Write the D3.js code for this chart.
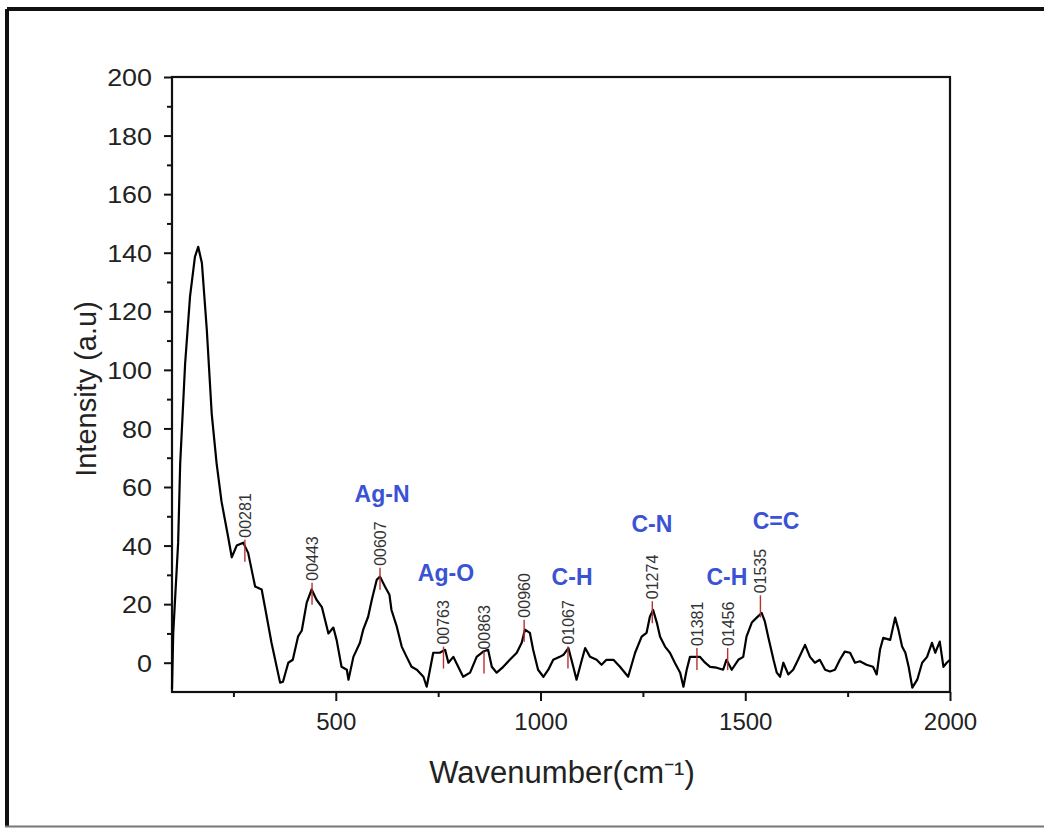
<!DOCTYPE html>
<html>
<head>
<meta charset="utf-8">
<script src="https://cdn.jsdelivr.net/npm/d3@7"></script>
<style>
  body { margin: 0; background: #fff; }
  svg { display: block; font-family: "Liberation Sans", Arial, sans-serif; }
</style>
</head>
<body>
<svg id="chart" width="1044" height="828"></svg>
<script>
// spectrum
var wavenumber = [100, 103, 115, 120, 132, 144, 156, 164, 173, 185, 197, 209, 221, 237, 246, 258, 274, 286, 303, 319,
  327, 343, 364, 371, 384, 395, 408, 417, 429, 441, 453, 466, 482, 494, 502, 514, 527, 531, 543, 559,
  567, 579, 588, 600, 608, 620, 631, 636, 649, 661, 673, 685, 698, 714, 722, 730, 738, 754, 767, 775,
  787, 799, 811, 828, 844, 860, 872, 881, 893, 909, 925, 942, 954, 962, 974, 982, 994, 1007, 1019, 1031,
  1047, 1056, 1068, 1080, 1088, 1101, 1109, 1121, 1137, 1149, 1161, 1178, 1194, 1214, 1231, 1247, 1259, 1267, 1275, 1284,
  1292, 1304, 1316, 1328, 1341, 1349, 1357, 1365, 1381, 1389, 1402, 1414, 1430, 1446, 1454, 1467, 1483, 1495, 1503, 1516,
  1528, 1540, 1548, 1556, 1569, 1577, 1585, 1593, 1605, 1617, 1629, 1646, 1658, 1670, 1682, 1695, 1707, 1719, 1731, 1743,
  1756, 1768, 1780, 1796, 1812, 1821, 1829, 1837, 1854, 1866, 1874, 1883, 1891, 1899, 1908, 1920, 1932, 1944, 1956, 1964,
  1975, 1984, 1992, 2000];
var intensity = [-9, 10, 41, 68, 102, 125, 138.6, 142, 136.5, 113.7, 85, 68, 55, 43, 36, 40, 41, 37.5, 26, 25,
  19, 6.8, -6.8, -6.5, 0, 1, 9, 11, 20.5, 25, 21.5, 19, 10, 12, 7.8, -1.4, -2.4, -5.8, 2, 6.8,
  11.3, 15.7, 21.5, 28.3, 29.4, 26, 23.2, 18, 12.3, 5.5, 2, -1.4, -2.4, -4.8, -8.2, -2.4, 3.4, 3.4, 4.4, 0,
  2, -1.4, -4.8, -3.4, 2, 3.8, 4.4, -1.4, -3.4, -1.4, 1, 3.4, 6.8, 11.3, 10.2, 4.4, -2.4, -4.8, -2.4, 1,
  2, 2.7, 5, -1.4, -5.8, 1, 5, 2, 1, -0.7, 1, 1, -1.4, -4.8, 3.4, 8.9, 10.2, 15.7, 18, 13.7,
  8.9, 5.5, 3.4, 0, -3.4, -8.2, -2.4, 2, 2, 2, 0, -1.4, -1.7, -2.4, 1, -2.4, 1, 2, 8.9, 13.7,
  15.4, 17, 14, 8.9, 1, -3.4, -4.8, 0, -4, -2.4, 1, 6.1, 2, 0, 1, -2.4, -3, -2.4, 1, 3.8,
  3.4, 0, 0.5, -0.7, -1.4, -4, 4.4, 8.5, 7.8, 15.4, 11.3, 5.5, 3.4, -1.4, -8.5, -5.8, 0, 2, 6.8, 3.4,
  7.2, -1.4, 0, 1];

// peak picks
var peakPos = [278, 442, 608, 763, 862, 960, 1067, 1273, 1382, 1457, 1537];
var peakTop = [42, 27.3, 32.4, 5.5, 3.8, 14.7, 5.5, 21, 5, 5, 23];
var peakLabels = ["00281", "00443", "00607", "00763", "00863", "00960", "01067", "01274", "01381", "01456", "01535"];

// band assignments
var bandNames = ["Ag-N", "Ag-O", "C-H", "C-N", "C-H", "C=C"];
var bandX = [613, 769, 1077, 1272, 1455, 1575];
var bandY = [55, 28, 26.6, 44.7, 26.6, 45.7];

var xMajor = [500, 1000, 1500, 2000];
var xMinor = [250, 750, 1250, 1750];
var yMajor = [0, 20, 40, 60, 80, 100, 120, 140, 160, 180, 200];
var yMinor = [10, 30, 50, 70, 90, 110, 130, 150, 170, 190];

var margin = { left: 172, top: 77 };
var width = 778, height = 615;

var svg = d3.select('#chart');

// outer frame
svg.append('line').attr('x1', 7).attr('y1', 9).attr('x2', 1044).attr('y2', 9)
  .attr('stroke', '#111').attr('stroke-width', 4);
svg.append('line').attr('x1', 7).attr('y1', 9).attr('x2', 7).attr('y2', 826)
  .attr('stroke', '#111').attr('stroke-width', 4);
svg.append('line').attr('x1', 5).attr('y1', 826.5).attr('x2', 1044).attr('y2', 826.5)
  .attr('stroke', '#777').attr('stroke-width', 2);

var g = svg.append('g').attr('transform', 'translate(' + margin.left + ',' + margin.top + ')');

var x = d3.scaleLinear().domain([100, 2000]).range([0, width]);
var y = d3.scaleLinear().domain([-10, 200]).range([height, 0]);

// axes
var xAxis = g.append('g').attr('transform', 'translate(0,' + height + ')')
  .call(d3.axisBottom(x).tickValues(xMajor).tickSize(9).tickPadding(12).tickFormat(d3.format('d')));
g.append('g').attr('transform', 'translate(0,' + height + ')')
  .call(d3.axisBottom(x).tickValues(xMinor).tickSize(5).tickFormat(''));
var yAxis = g.append('g')
  .call(d3.axisLeft(y).tickValues(yMajor).tickSize(8));
g.append('g')
  .call(d3.axisLeft(y).tickValues(yMinor).tickSize(5).tickFormat(''));

g.selectAll('.domain').remove();
g.selectAll('.tick line').attr('stroke', '#111').attr('stroke-width', 2);
g.selectAll('.tick text').attr('fill', '#222').style('font-size', '24px')
  .style('font-family', '"Liberation Sans", Arial, sans-serif');
yAxis.selectAll('.tick text').attr('x', 0).attr('dy', '0.36em')
  .attr('transform', 'translate(-20,0) scale(1.12,1)');

g.append('rect').attr('width', width).attr('height', height)
  .attr('fill', 'none').attr('stroke', '#111').attr('stroke-width', 2.2);

// spectrum line
var pts = wavenumber.map(function (w, i) { return [w, intensity[i]]; });
var line = d3.line().x(function (d) { return x(d[0]); }).y(function (d) { return y(d[1]); });
g.append('path').datum(pts).attr('d', line)
  .attr('fill', 'none').attr('stroke', '#000').attr('stroke-width', 2.2).attr('stroke-linejoin', 'round');

// peak markers and labels
g.selectAll('.pk').data(peakPos).enter().append('line')
  .attr('x1', function (d) { return x(d); }).attr('x2', function (d) { return x(d); })
  .attr('y1', function (d, i) { return y(peakTop[i]); })
  .attr('y2', function (d, i) { return y(peakTop[i]) + 22; })
  .attr('stroke', '#b83030').attr('stroke-width', 1.4);

g.selectAll('.pl').data(peakPos).enter().append('text')
  .attr('transform', function (d, i) {
    return 'translate(' + (x(d) + 6) + ',' + (y(peakTop[i]) - 2) + ') rotate(-90)';
  })
  .attr('fill', '#333').style('font-size', '16px')
  .text(function (d, i) { return peakLabels[i]; });

// band names
g.selectAll('.bn').data(bandNames).enter().append('text')
  .attr('x', function (d, i) { return x(bandX[i]); })
  .attr('y', function (d, i) { return y(bandY[i]); })
  .attr('text-anchor', 'middle').attr('fill', '#3a52d4')
  .style('font-size', '23px').style('font-weight', 'bold')
  .text(function (d) { return d; });

// axis titles
svg.append('text').attr('transform', 'translate(96,389) rotate(-90)')
  .attr('text-anchor', 'middle').attr('fill', '#222').style('font-size', '29px')
  .text('Intensity (a.u)');
svg.append('text').attr('x', 562).attr('y', 783)
  .attr('text-anchor', 'middle').attr('fill', '#222').style('font-size', '31px')
  .text('Wavenumber(cm\u207B\u00B9)');
</script>
</body>
</html>
